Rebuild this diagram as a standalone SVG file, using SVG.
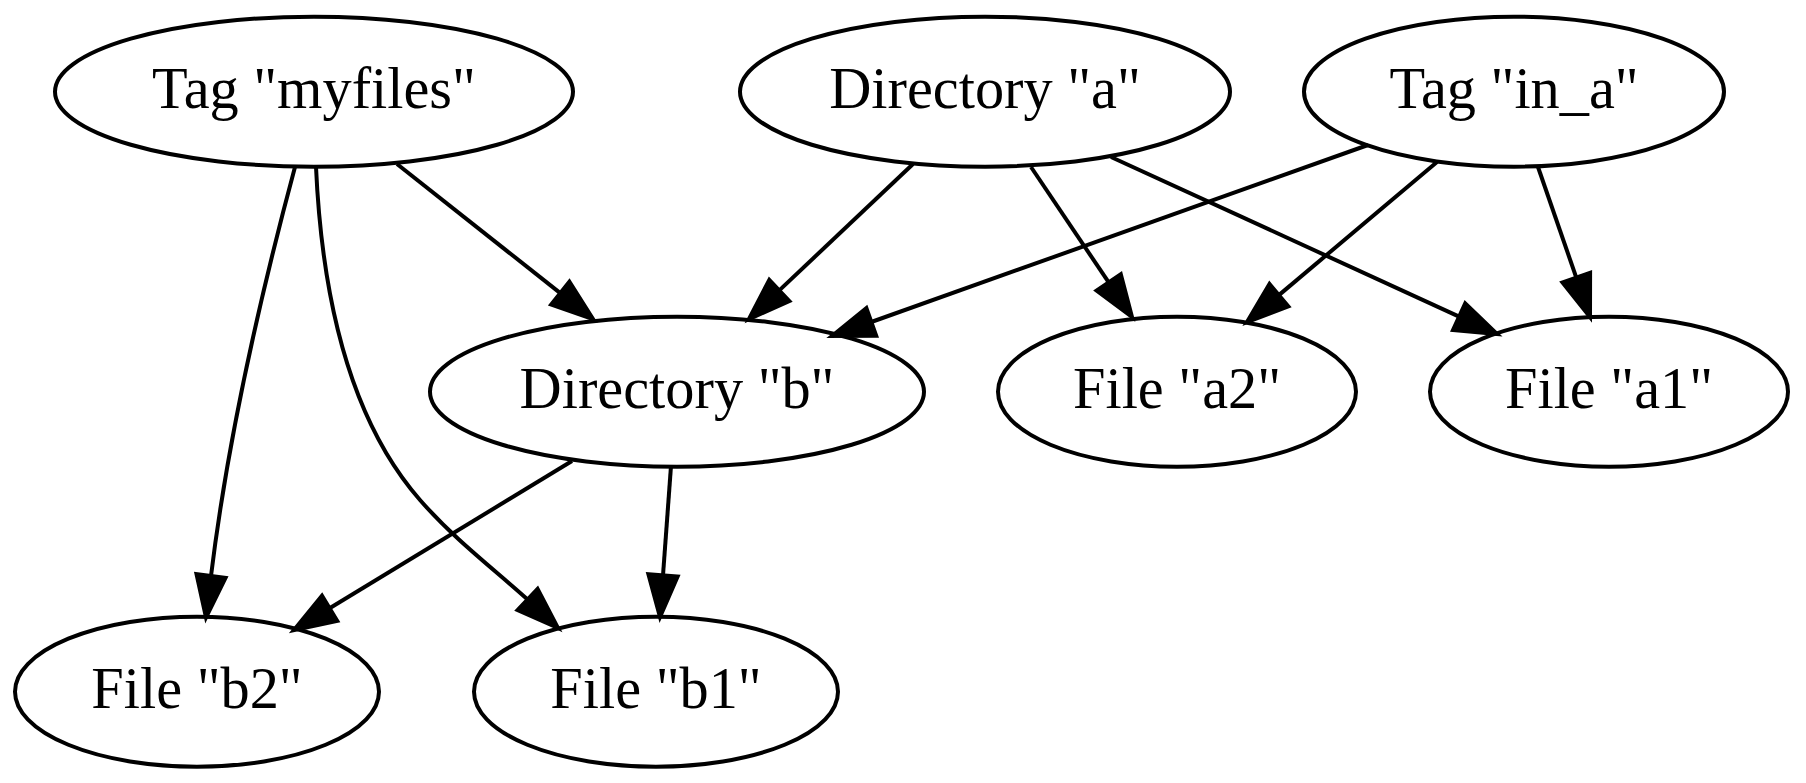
<svg xmlns="http://www.w3.org/2000/svg" width="1806" height="783" viewBox="0 0 1806 783">
<style>
.n ellipse{fill:none;stroke:#000;stroke-width:4}
.n text{font-family:"Liberation Serif","Times New Roman",serif;font-size:58.33px;text-anchor:middle;fill:#000}
.e path{fill:none;stroke:#000;stroke-width:4}
.e polygon{fill:#000;stroke:#000;stroke-width:4;stroke-linejoin:miter}
</style>
<rect width="1806" height="783" fill="#fff"/>
<g id="edges" class="e">
<path d="M397,164 L560.3,293.1"/><polygon points="593,319 551.2,304.6 569.4,281.7"/>
<path d="M295,167 C270,260 230,420 211,576"/><polygon points="206,617.4 196.5,574.2 225.5,577.8"/>
<path d="M316,167 C322,300 350,420 420,500 C455,540 495,570 527.6,599.5"/><polygon points="558,628 517.6,610.1 537.6,588.9"/>
<path d="M913,164 L779.3,290.4"/><polygon points="749,319 769.3,279.8 789.3,301"/>
<path d="M1031,167 L1108.7,282.4"/><polygon points="1132,317 1096.6,290.6 1120.8,274.2"/>
<path d="M1111,157 L1459.1,316.6"/><polygon points="1497,334 1453,329.9 1465.2,303.3"/>
<path d="M1368,145 L871.3,322"/><polygon points="832,336 866.4,308.2 876.2,335.8"/>
<path d="M1437,162 L1278.9,295.1"/><polygon points="1247,322 1269.5,283.9 1288.3,306.3"/>
<path d="M1538,167 L1576.3,277.6"/><polygon points="1590,317 1562.5,282.4 1590.1,272.8"/>
<path d="M572,461 L329.6,608.3"/><polygon points="294,630 322,595.8 337.2,620.8"/>
<path d="M671,466 L663,575.4"/><polygon points="660,617 648.4,574.3 677.6,576.5"/>
</g>
<g id="tag_myfiles" class="n"><ellipse cx="314" cy="91.7" rx="259" ry="75"/><text x="314" y="107.7">Tag "myfiles"</text></g>
<g id="dir_a" class="n"><ellipse cx="985" cy="91.7" rx="245" ry="75"/><text x="985" y="107.7">Directory "a"</text></g>
<g id="tag_in_a" class="n"><ellipse cx="1514" cy="91.7" rx="210" ry="75"/><text x="1514" y="107.7">Tag "in_a"</text></g>
<g id="dir_b" class="n"><ellipse cx="677" cy="391.7" rx="247" ry="75"/><text x="677" y="407.7">Directory "b"</text></g>
<g id="file_a2" class="n"><ellipse cx="1177" cy="391.7" rx="179" ry="75"/><text x="1177" y="407.7">File "a2"</text></g>
<g id="file_a1" class="n"><ellipse cx="1609" cy="391.7" rx="179" ry="75"/><text x="1609" y="407.7">File "a1"</text></g>
<g id="file_b2" class="n"><ellipse cx="197" cy="691.7" rx="182" ry="75"/><text x="197" y="707.7">File "b2"</text></g>
<g id="file_b1" class="n"><ellipse cx="656" cy="691.7" rx="182" ry="75"/><text x="656" y="707.7">File "b1"</text></g>
</svg>
